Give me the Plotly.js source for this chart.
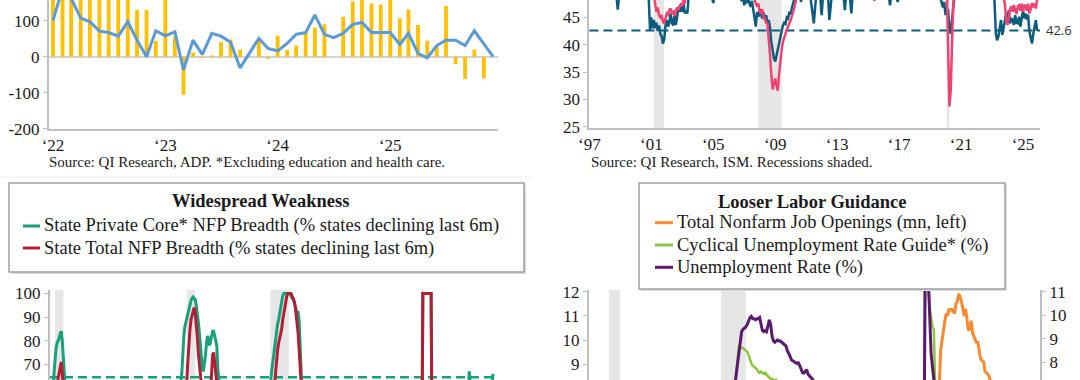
<!DOCTYPE html>
<html><head><meta charset="utf-8">
<script src="https://cdn.plot.ly/plotly-3.0.1.min.js"></script>
<style>html,body{margin:0;padding:0;background:#fff;}#chart{width:1080px;height:380px;}</style>
</head><body><div id="chart"></div>
<script>
// ================= DATA =================
// Panel 1 (top-left): ADP, monthly from Jan 2022
const adpStart = '2022-01';
const adpBars = [250,300,280,230,260,220,200,210,180,130,130,44,175,56,-106,12,-3,3,40,48,19,-1,51,-6,
                 58,19,31,67,81,90,0,111,153,175,148,145,180,107,131,88,44,28,141,-21,-62,20,-60,0];
const adpLine = [100,190,162,107,97,71,67,57,97,46,0,72,58,69,-37,46,6,65,57,40,-31,9,51,23,
                 16,37,62,67,116,62,53,65,90,95,67,67,67,34,65,9,-3,31,46,46,31,72,35,0];
const adpTickVals = ['2022-01-01','2023-01-01','2024-01-01','2025-01-01'];
const adpTickText = ['\u201822','\u201823','\u201824','\u201825'];
const adpYTicks = [-200,-100,0,100];
const adpYText = ['-200','-100','0','100'];

// Panel 2 (top-right): ISM employment, segments [start month, monthly values]
const ismTeal = [
 ['1997-01',[52]],['1997-07',[51]],['1998-01',[50.5]],['1998-07',[49.5]],['1998-10',[49.0,46.4,48.8]],
 ['1999-06',[50]],['2000-01',[52]],['2000-07',[50.5]],['2000-10',[49.5,48.5,42.6]],
 ['2001-01',[45.0,43.0,44.5,43.0,44.0,42.5,43.5,42.0,41.5,40.2,41.0,43.5]],
 ['2002-01',[44.5,43.3,44.0,45.7,44.0,43.5,45.5,43.6,45.0,46.9,46.0,47.0]],
 ['2003-01',[46.0,47.5,45.7,46.2,45.7,49.0]],
 ['2003-10',[51]],['2004-06',[56]],['2004-11',[49.5,48.6,47.6,49.2]],['2005-09',[53]],['2006-04',[51]],
 ['2006-09',[49.5,48.5,48.0,49.0]],
 ['2007-01',[47.2,48.5,47.6,48.4,47.5,46.9,48.0,46.5,45.4,43.3,46.0,45.1]],
 ['2008-01',[46.5,45.7,44.8,45.9,44.5,45.4,44.0,44.5,43.0,40.5,38.5,37.5]],
 ['2009-01',[36.9,38.0,39.5,40.5,41.5,42.4,43.5,44.0,43.8,45.0,44.8,46.0]],
 ['2010-01',[45.5,46.8,47.5,48.5,50.0]],
 ['2010-08',[50,47.8,49.5]],['2011-01',[52]],['2011-04',[49.5,47.5,45.0,43.9,47.0,49.2]],
 ['2011-12',[48.6,45.4,48.8]],['2012-06',[48.6,44.5,47.0,49.5]],['2013-06',[49,46.3,49.2]],
 ['2013-11',[48.5,45.7,49.5]],['2014-07',[54]],['2015-06',[51]],['2016-05',[49,47.2,49.5]],
 ['2016-11',[48.5,47.8,49.5]],['2018-01',[55]],['2019-01',[53]],
 ['2019-08',[49.5,48.5,47.5,46.8,47.8,45.4,46.5,46.3,43.0,42.0,44.5,46.5,49.0]],
 ['2021-03',[53]],['2022-03',[51]],['2022-10',[50]],
 ['2023-02',[49,48,42.0,40.8,41.5,43.5,44.5,41.8,43.0,44.5,45.7]],
 ['2024-01',[44.5,46.3,43.9,44.8,44.5,43.6,45.4,44.0,43.9,45.1,43.3,44.5]],
 ['2025-01',[46.3,44.8,45.7,44.6,45.5,42.4,41.2,40.2,42.0,43.0,44.5,42.5]]
];
const ismPink = [
 ['1997-01',[53]],['1998-01',[52]],['1999-01',[51]],['2000-01',[54]],['2000-08',[51]],
 ['2000-12',[49.5,50,49.5,49,47.5,46.0,46.8,45.4,45.0,45.4,44.2,43.9,44.8]],
 ['2002-01',[45.7,45.5,46.3,46.6,45.8,46.0,45.2,46.2,46.8,46.5,47.2,47.5]],
 ['2003-01',[47.0,48.5,47.5,49.5]],
 ['2003-09',[52]],['2004-06',[57]],['2005-06',[55]],['2006-06',[53]],['2007-01',[51]],
 ['2007-05',[49.5,49,48.5,49,48.0,47.5,47.0,47.5]],
 ['2008-01',[46.0,45.7,46.5,45.0,44.8,44.0,43.9,41.5,38.0,34.5,31.8,32.8]],
 ['2009-01',[33.8,32.5,31.6,34.5,37.0,39.0,40.5,41.5,42.0,42.7,43.5,43.9]],
 ['2010-01',[44.5,45.1,46.0,47.0,48.0,49.5]],
 ['2010-10',[53]],['2012-01',[52]],['2014-01',[54]],['2015-04',[50,49,48.0,49.5]],['2016-01',[51]],
 ['2018-01',[57]],['2019-06',[52]],['2019-12',[50]],
 ['2020-02',[50,42,28.7,31.5,40,47.5,50.5]],
 ['2021-06',[56]],['2022-06',[52]],['2023-01',[50.5]],['2023-05',[49.5]],
 ['2023-08',[48.8,49,48.5,47.5,44.5]],
 ['2024-01',[43.6,45.7,46.5,47.0,46.0,47.2,46.3,45.6,47.0,47.2,46.2,47.5]],
 ['2025-01',[46.0,47.3,47.0,46.2,47.5,45.7,46.5,47.6,46.8,47.5,46.6,48.3]]
];
const ismThreshold = 42.6;
const ismTickVals = ['1997-01-01','2001-01-01','2005-01-01','2009-01-01','2013-01-01','2017-01-01','2021-01-01','2025-01-01'];
const ismTickText = ['\u201897','\u201801','\u201805','\u201809','\u201813','\u201817','\u201821','\u201825'];
const ismYTicks = [25,30,35,40,45];

// Recessions
const recStart = ['1990-07-01','2001-03-01','2007-12-01','2020-02-01'];
const recEnd   = ['1991-03-01','2001-11-01','2009-06-01','2020-04-01'];

// Panel 3 (bottom-left): state NFP breadth (% states declining last 6m)
const breadthCore = [
 ['1990-01',[30]],['1990-03',[40]],['1990-05',[58,66,73,77,79,80,81,83,84,80,72,62,52]],
 ['1991-08',[38]],['1992-03',[30]],['1993-03',[15]],['1994-06',[8]],['1995-09',[18]],['1996-09',[12]],
 ['1998-03',[6]],['1999-06',[10]],['2000-03',[25]],
 ['2000-07',[45,55,62,66,76,82]],
 ['2001-01',[86,88,90,92,94,96,97,98,98.5,98,97.5,95]],
 ['2002-01',[92,88,84,77,72,68,67,70,74,79,82,81]],
 ['2003-01',[78,80,82,84,84,82,80,78,68,58]],
 ['2003-12',[45]],['2004-06',[30]],['2005-06',[15]],['2006-06',[10]],['2007-03',[22]],['2007-06',[40]],['2007-09',[50]],
 ['2007-11',[58,63]],
 ['2008-01',[67,70,73,77,80,84,87,89,92,94,97,99]],
 ['2009-01',[100,100,100,100,100,100,100,99,98,98,96,94]],
 ['2010-01',[93,92,92,88,80,66,55]],
 ['2010-09',[45]],['2011-03',[35]],['2011-09',[30]],['2012-06',[20]],['2013-06',[15]],['2014-06',[10]],
 ['2015-06',[15]],['2016-06',[25]],['2017-06',[15]],['2018-06',[8]],['2019-06',[15]],['2019-12',[20]],
 ['2020-02',[25,28,100,100,100,100,100,100,100,100,100,30]],
 ['2021-06',[10]],['2022-06',[5]],['2023-06',[20]],['2023-11',[48,55,67,52]],['2024-06',[40]],
 ['2025-01',[45]],['2025-06',[52]],['2025-10',[55,58,66]]
];
const breadthTotal = [
 ['1990-01',[20]],['1990-05',[40,48,55,58,60,64,67,69,71,66,58,50,45]],
 ['1991-09',[25]],['1992-06',[20]],['1993-06',[8]],['1995-06',[5]],['1997-06',[6]],['1999-06',[5]],['2000-03',[15]],
 ['2000-07',[30,35,40,45,50,55]],
 ['2001-01',[58,61,64,72,80,85,89,91,93,94,92,88]],
 ['2002-01',[82,75,69,63,57,52,49,48,50,52,54,55]],
 ['2003-01',[57,60,66,74,75,70,66,60,52,45]],
 ['2003-12',[35]],['2004-06',[20]],['2005-06',[10]],['2006-06',[8]],['2007-03',[15]],['2007-06',[28]],['2007-09',[35]],
 ['2007-11',[40,44]],
 ['2008-01',[48,52,56,62,66,72,76,79,81,83,85,89]],
 ['2009-01',[92,95,97,99,100,100,100,100,99,98,97,95]],
 ['2010-01',[92,87,83,76,68,61,52]],
 ['2010-09',[40]],['2011-03',[30]],['2011-09',[25]],['2012-06',[15]],['2013-06',[12]],['2014-06',[8]],
 ['2015-06',[10]],['2016-06',[15]],['2017-06',[10]],['2018-06',[5]],['2019-06',[10]],['2019-12',[12]],
 ['2020-02',[18,25,100,100,100,100,100,100,100,100,100,28]],
 ['2021-06',[5]],['2022-06',[3]],['2023-06',[10]],['2024-01',[25]],['2024-06',[20]],['2025-01',[25]],
 ['2025-06',[35]],['2025-12',[40]]
];
const breadthThreshold = 64.5;
const breadthYTicks = [70,80,90,100];

// Panel 4 (bottom-right): labor guidance
const jobOpenings = [  // mn, left axis
 ['2000-12',[5.1]],['2001-06',[4.6]],['2002-06',[3.6]],['2003-06',[3.4]],['2004-06',[3.7]],['2005-06',[4.2]],
 ['2006-06',[4.5]],['2007-06',[4.6]],['2008-06',[3.8]],['2009-06',[2.4]],['2010-06',[2.9]],['2011-06',[3.4]],
 ['2012-06',[3.7]],['2013-06',[3.9]],['2014-06',[4.8]],['2015-06',[5.5]],['2016-06',[5.6]],['2017-06',[6.0]],
 ['2018-06',[7.1]],['2019-06',[7.2]],['2019-12',[6.5]],['2020-04',[4.6]],['2020-08',[6.4]],
 ['2020-11',[6.5,6.8]],
 ['2021-01',[7.3,8.3,9.6,10.0,10.5,10.8,11.1,11.0,11.3,11.2,11.3,11.2]],
 ['2022-01',[11.1,11.5,11.6,11.9,11.8,11.6,11.3,11.0,11.3,10.8,10.4,10.5]],
 ['2023-01',[10.8,10.3,10.1,10.0,9.9,9.9,9.5,9.2,9.15,9.1,8.7,8.65]],
 ['2024-01',[8.6,8.5,8.35,8.1,8.2]],
 ['2024-09',[7.4]],['2024-12',[7.6]],['2025-03',[7.2]],['2025-06',[7.4]],['2025-09',[7.2]],['2025-11',[7.1]]
];
const cyclicalGuide = [  // %, right axis
 ['2000-01',[4.2]],['2001-06',[4.8]],['2002-06',[5.5]],['2003-06',[5.8]],['2004-06',[5.2]],['2005-06',[4.8]],
 ['2006-06',[4.4]],['2007-06',[4.6]],['2008-03',[5.2]],['2008-06',[5.6]],
 ['2008-09',[6.0,6.5,7.5,8.3]],
 ['2009-01',[8.7,8.65,8.6,8.6,8.55,8.5,8.45,8.3,8.1,7.95,7.85,7.8]],
 ['2010-01',[7.75,7.7,7.6,7.55,7.6,7.55,7.5,7.55,7.45,7.4,7.35,7.3]],
 ['2011-01',[7.3,7.25,7.2,7.25,7.15,7.1]],
 ['2011-12',[6.8]],['2012-12',[6.3]],['2013-12',[5.6]],['2015-06',[4.8]],['2017-06',[4.2]],['2019-06',[3.8]],
 ['2020-02',[3.7,4.5,14.6,13.2,11.1,10.3,9.8,9.5,9.4,6.8]],
 ['2021-06',[5.8]],['2022-06',[4.0]],['2023-06',[3.8]],['2024-06',[4.2]],['2025-06',[4.4]],['2025-11',[4.6]]
];
const unemployment = [  // %, right axis
 ['2000-01',[4.0]],['2001-01',[4.2]],['2001-12',[5.7]],['2002-06',[5.8]],['2003-06',[6.3]],['2004-06',[5.6]],
 ['2005-06',[5.0]],['2006-06',[4.6]],['2007-06',[4.6]],['2008-01',[5.0]],['2008-06',[5.6]],
 ['2008-10',[7.0,7.5,8.0]],
 ['2009-01',[8.6,9.1,9.3,9.4,9.45,9.5,9.6,9.75,9.9,9.95,9.85,9.85]],
 ['2010-01',[9.8,9.85,9.85,9.9,9.6,9.35,9.3,9.35,9.3,9.5,9.8,9.6]],
 ['2011-01',[9.1,8.9,8.85,8.9,8.95,8.9,8.9,8.85,8.8,8.78,8.7,8.5]],
 ['2012-01',[8.4,8.25,8.1,8.05,8.0,7.98,7.95,7.97,7.85,7.7,7.55,7.54]],
 ['2013-01',[7.6,7.68,7.5,7.4,7.35,7.3,7.15,7.1]],
 ['2013-12',[6.7]],['2014-06',[6.1]],['2015-01',[5.7]],['2016-01',[4.9]],['2017-01',[4.7]],['2018-01',[4.1]],
 ['2019-01',[4.0]],
 ['2020-01',[3.5,3.5,4.4,14.8,13.2,11.0,10.2,8.4,7.8,6.9,6.7,6.7]],
 ['2021-06',[5.9]],['2022-01',[4.0]],['2023-01',[3.5]],['2024-01',[3.7]],['2025-01',[4.0]],['2025-11',[4.5]]
];
const laborLeftTicks = [9,10,11,12];
const laborRightTicks = [8,9,10,11];

// ================= HELPERS =================
function expand(segs){
  const x=[], y=[];
  segs.forEach(([start, vals])=>{
    let yr=+start.slice(0,4), mo=+start.slice(5,7);
    vals.forEach(v=>{
      x.push(yr+'-'+String(mo).padStart(2,'0')+'-01'); y.push(v);
      mo++; if(mo>12){mo=1;yr++;}
    });
  });
  return {x,y};
}
const W=1080,H=380;
const px=v=>v/W, py=v=>1-v/H;
const FONT='Liberation Serif, Times New Roman, serif';
const AX='#BFBFBF', TXT='#1a1a1a';
const TEAL='#0E5C7C', PINK='#EF4270', GRN='#17A07A', RED='#B21F35', ORG='#F68A30', LGR='#8CC63E', PUR='#5A1A6E';
const TICK_SIZE=17, LEG_SIZE=18.5, SRC_SIZE=15;

const adp = expand([[adpStart, adpBars]]);
const adpL = expand([[adpStart, adpLine]]);
const tA=expand(ismTeal), tB=expand(ismPink);
const bA=expand(breadthCore), bB=expand(breadthTotal);
const jo=expand(jobOpenings), cg=expand(cyclicalGuide), ur=expand(unemployment);

const traces=[
 {type:'bar',x:adp.x,y:adp.y,xaxis:'x',yaxis:'y',marker:{color:'#FFC000'},hoverinfo:'skip'},
 {type:'scatter',mode:'lines',x:adpL.x,y:adpL.y,xaxis:'x',yaxis:'y',line:{color:'#5B9BD5',width:3}},
 {type:'scatter',mode:'lines',x:tA.x,y:tA.y,xaxis:'x2',yaxis:'y2',line:{color:TEAL,width:2.5}},
 {type:'scatter',mode:'lines',x:tB.x,y:tB.y,xaxis:'x2',yaxis:'y2',line:{color:PINK,width:2.5}},
 {type:'scatter',mode:'lines',x:bA.x,y:bA.y,xaxis:'x3',yaxis:'y3',line:{color:GRN,width:3}},
 {type:'scatter',mode:'lines',x:bB.x,y:bB.y,xaxis:'x3',yaxis:'y3',line:{color:RED,width:3}},
 {type:'scatter',mode:'lines',x:jo.x,y:jo.y,xaxis:'x4',yaxis:'y4',line:{color:ORG,width:3}},
 {type:'scatter',mode:'lines',x:cg.x,y:cg.y,xaxis:'x4',yaxis:'y5',line:{color:LGR,width:2.5}},
 {type:'scatter',mode:'lines',x:ur.x,y:ur.y,xaxis:'x4',yaxis:'y5',line:{color:PUR,width:3}}
];

const tickF={family:FONT,size:TICK_SIZE,color:TXT};
const yBase={showline:true,linecolor:AX,linewidth:2,showgrid:false,zeroline:false,ticks:'outside',ticklen:4,tickcolor:AX,tickwidth:1,tickfont:tickF,fixedrange:true};
const xBase={type:'date',showgrid:false,zeroline:false,tickfont:tickF,ticks:'',fixedrange:true};

const shapes=[];
function rec(xr,yr,list){
  recStart.forEach((s,i)=>{ if(list.includes(i)) shapes.push({type:'rect',xref:xr,yref:yr+' domain',x0:s,x1:recEnd[i],y0:0,y1:1,fillcolor:'#E6E6E6',line:{width:0},layer:'below'});});
}
rec('x2','y2',[1,2,3]); rec('x3','y3',[0,1,2,3]); rec('x4','y4',[1,2,3]);
shapes.push({type:'line',xref:'x2 domain',yref:'y2',x0:0,x1:1,y0:ismThreshold,y1:ismThreshold,line:{color:TEAL,width:2,dash:'9px,5px'},layer:'below'});
shapes.push({type:'line',xref:'x3 domain',yref:'y3',x0:0,x1:1,y0:breadthThreshold,y1:breadthThreshold,line:{color:GRN,width:2.5,dash:'9px,5px'},layer:'below'});
shapes.push({type:'line',xref:'paper',yref:'paper',x0:0,x1:px(533),y0:py(177),y1:py(177),line:{color:'#EFEFEF',width:1}});
function box(x0,y0,x1,y1){
  shapes.push({type:'rect',xref:'paper',yref:'paper',x0:px(x0+2),x1:px(x1+2),y0:py(y1+2),y1:py(y0+2),fillcolor:'#DCDCDC',line:{width:0}});
  shapes.push({type:'rect',xref:'paper',yref:'paper',x0:px(x0),x1:px(x1),y0:py(y1),y1:py(y0),fillcolor:'#FFFFFF',line:{color:'#A0A0A0',width:1.5}});
}
box(9,183,524,272); box(639,183,1005,289);
function sample(x0,x1,y,c){shapes.push({type:'line',xref:'paper',yref:'paper',x0:px(x0),x1:px(x1),y0:py(y),y1:py(y),line:{color:c,width:3}});}
sample(23,40,226,GRN); sample(23,40,248,RED);
sample(655,673,222.7,ORG); sample(655,673,245,LGR); sample(655,673,267.3,PUR);

const ann=[];
function txt(t,x,y,anchor,size){ann.push({text:t,xref:'paper',yref:'paper',x:px(x),y:py(y),xanchor:anchor,yanchor:'middle',showarrow:false,font:{family:FONT,size:size,color:TXT}});}
txt('Source: QI Research, ADP. *Excluding education and health care.',47,161.7,'left',SRC_SIZE);
txt('Source: QI Research, ISM. Recessions shaded.',589,161.7,'left',SRC_SIZE);
ann.push({text:'42.6',xref:'paper',yref:'y2',x:px(1044),y:ismThreshold,xanchor:'left',yanchor:'middle',showarrow:false,font:{family:'Open Sans, sans-serif',size:13,color:'#333'}});
txt('<b>Widespread Weakness</b>',260,200.7,'center',LEG_SIZE);
txt('State Private Core* NFP Breadth (% states declining last 6m)',42,226,'left',LEG_SIZE);
txt('State Total NFP Breadth (% states declining last 6m)',42,248,'left',LEG_SIZE);
txt('<b>Looser Labor Guidance</b>',812,201.7,'center',LEG_SIZE);
txt('Total Nonfarm Job Openings (mn, left)',675,222.7,'left',LEG_SIZE);
txt('Cyclical Unemployment Rate Guide* (%)',675,245,'left',LEG_SIZE);
txt('Unemployment Rate (%)',675,267.3,'left',LEG_SIZE);

const layout={
 width:W,height:H,margin:{l:0,r:0,t:0,b:0},paper_bgcolor:'#fff',plot_bgcolor:'rgba(0,0,0,0)',
 showlegend:false,bargap:0.56,font:{family:FONT,color:TXT},hovermode:false,
 xaxis:Object.assign({},xBase,{domain:[px(49),px(498)],anchor:'y',range:['2021-12-19','2025-12-17'],showline:true,linecolor:AX,linewidth:2,tickvals:adpTickVals,ticktext:adpTickText}),
 yaxis:Object.assign({},yBase,{domain:[py(128.7),1],anchor:'x',range:[-200,157.5],tickvals:adpYTicks,ticktext:adpYText,zeroline:true,zerolinecolor:'#D3D3D3',zerolinewidth:2}),
 xaxis2:Object.assign({},xBase,{domain:[px(589.4),px(1040)],anchor:'y2',range:['1997-01-01','2026-02-06'],showline:true,linecolor:AX,linewidth:2,tickvals:ismTickVals,ticktext:ismTickText}),
 yaxis2:Object.assign({},yBase,{domain:[py(127.7),1],anchor:'x2',range:[24.82,48.16],tickvals:ismYTicks}),
 xaxis3:Object.assign({},xBase,{domain:[px(50),px(498)],anchor:'y3',range:['1990-02-03','2026-04-30'],showline:false,showticklabels:false}),
 yaxis3:Object.assign({},yBase,{domain:[0,py(290)],anchor:'x3',range:[63.35,101.5],tickvals:breadthYTicks}),
 xaxis4:Object.assign({},xBase,{domain:[px(589),px(1040)],anchor:'y4',range:['1999-12-19','2027-02-24'],showline:false,showticklabels:false}),
 yaxis4:Object.assign({},yBase,{domain:[0,py(290)],anchor:'x4',range:[8.351,12.07],tickvals:laborLeftTicks}),
 yaxis5:Object.assign({},yBase,{overlaying:'y4',side:'right',anchor:'x4',range:[7.243,11.072],tickvals:laborRightTicks}),
 shapes:shapes,annotations:ann
};
Plotly.newPlot('chart',traces,layout,{staticPlot:true,displayModeBar:false});
</script></body></html>
